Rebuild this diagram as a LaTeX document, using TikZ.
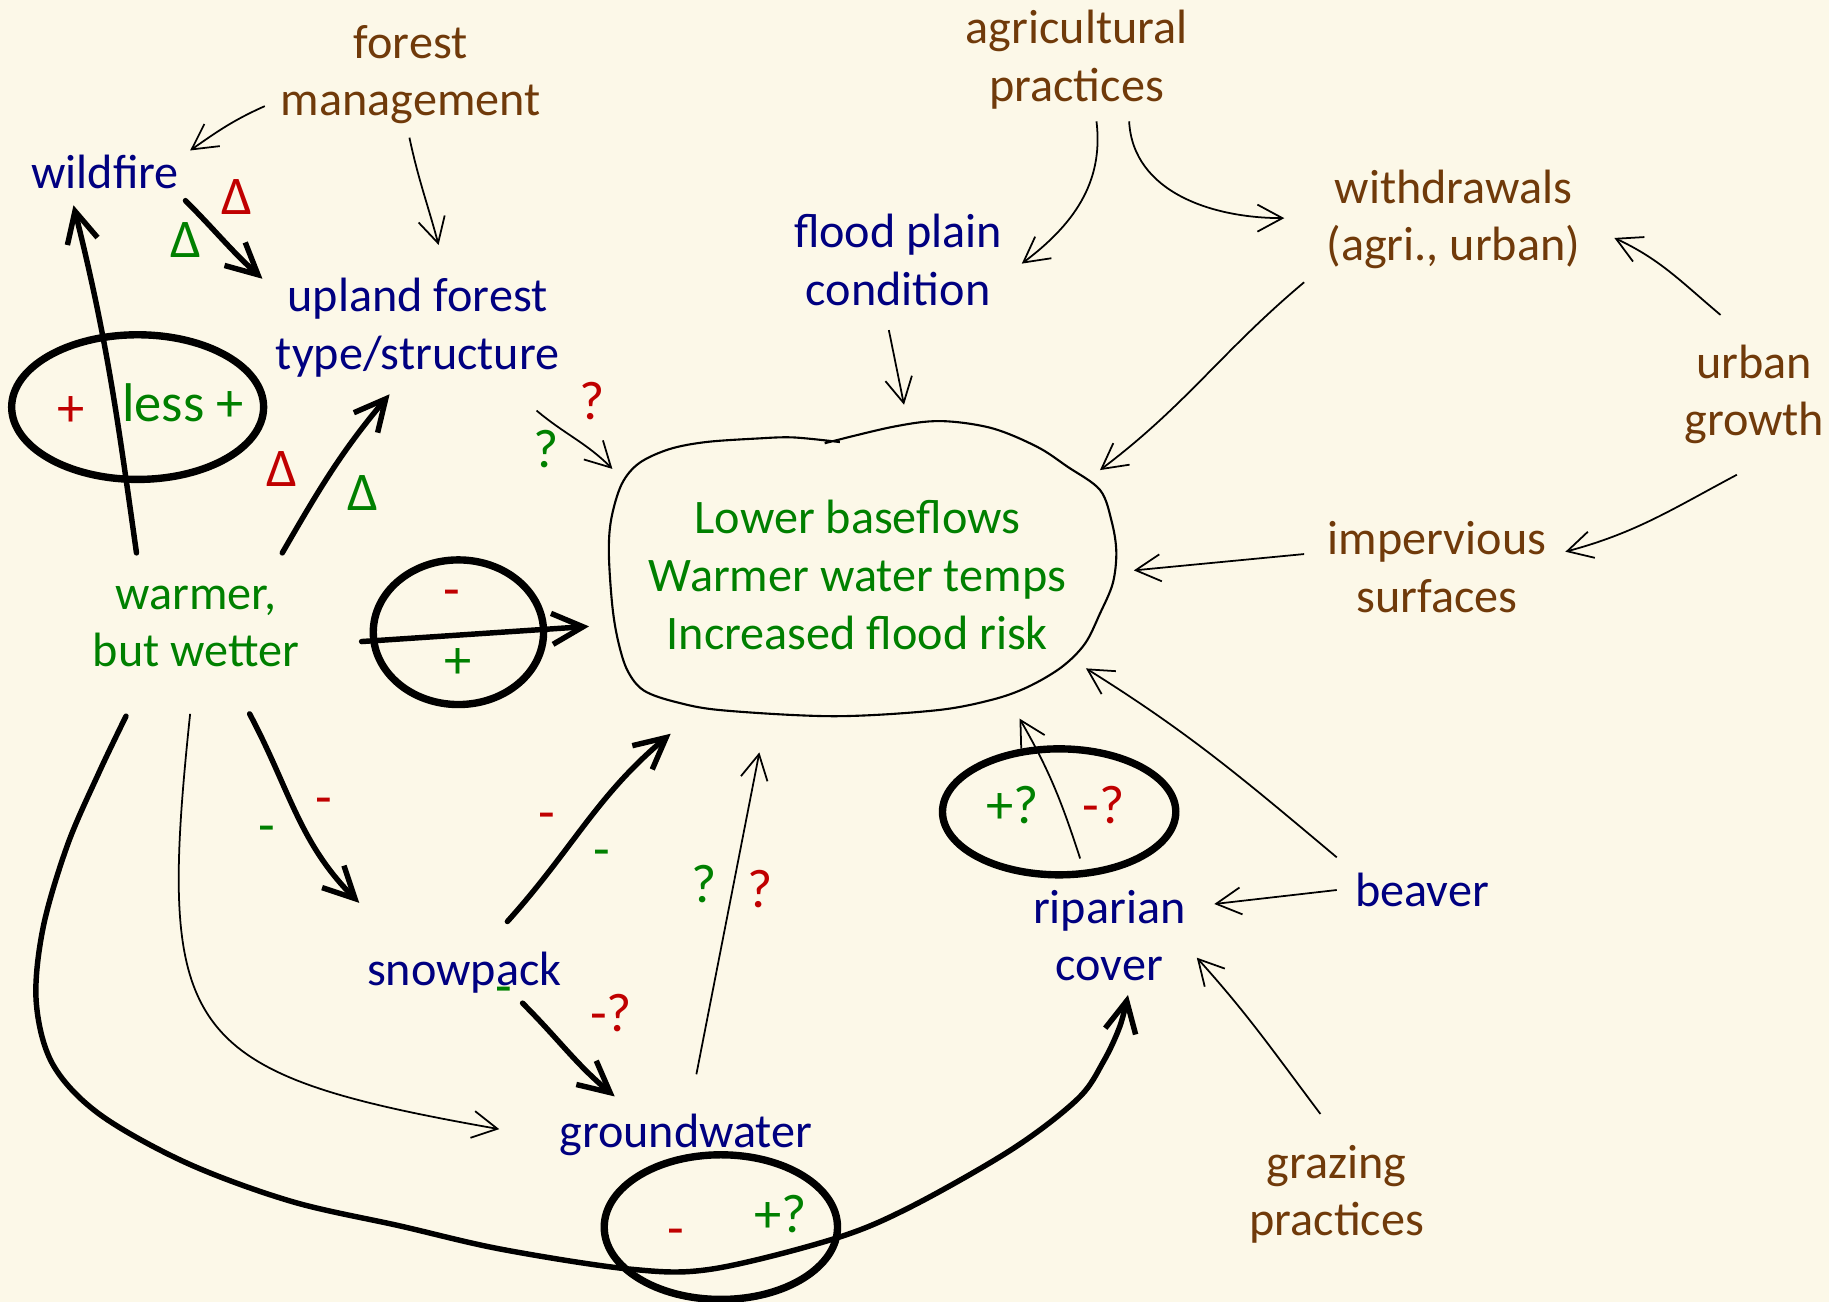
\documentclass[tikz,border=0pt]{standalone}
\usepackage{fontspec}
\setmainfont{Carlito}
\usetikzlibrary{arrows.meta}
\definecolor{bgc}{RGB}{252,248,232}
\definecolor{navy}{RGB}{0,0,128}
\definecolor{brn}{RGB}{112,58,10}
\definecolor{grn}{RGB}{0,128,0}
\definecolor{dred}{RGB}{192,0,0}
\begin{document}
\begin{tikzpicture}[x=0.011665cm,y=-0.011665cm,
 every node/.style={font=\fontsize{13.7}{16.4}\selectfont, inner sep=0pt},
 drv/.style={align=center, text=brn},
 var/.style={align=center, text=navy},
 res/.style={align=center, text=grn},
 lab/.style={font=\fontsize{15.5}{18}\selectfont, text height=9.9pt, text depth=0pt},
 lg/.style={lab, text=grn},
 lr/.style={lab, text=dred},
 tarr/.style={line width=0.5pt, -{Straight Barb[length=2.5mm,width=2.7mm]}},
 karr/.style={line width=1.55pt, line cap=round, line join=round, -{Straight Barb[length=3.1mm,width=3.1mm]}},
 ring/.style={line width=2.1pt}]
\useasboundingbox (0,0) rectangle (1568,1116);
\fill[bgc] (0,0) rectangle (1568,1116);

% nodes
\node[drv] (fm) at (352,64) {forest\\management};
\node[var] (wild) at (90,147) {wildfire};
\node[var] (up) at (358,281) {upland forest\\type/structure};
\node[drv] (agr) at (923,51) {agricultural\\practices};
\node[var] (fp) at (770,223) {flood plain\\condition};
\node[drv] (wd) at (1246,188) {withdrawals\\(agri., urban)};
\node[drv] (ug) at (1504,338) {urban\\growth};
\node[drv] (imp) at (1232,486) {impervious\\surfaces};
\node[res] (out) at (735,493) {Lower baseflows\\Warmer water temps\\Increased flood risk};
\node[res] (warm) at (168,537) {warmer,\\but wetter};
\node[var] (snow) at (398,834) {snowpack};
\node[var] (gw) at (588,973) {groundwater};
\node[var] (rip) at (951,802) {riparian\\cover};
\node[var] (bea) at (1219,763) {beaver};
\node[drv] (graz) at (1146,1024) {grazing\\practices};

% outcome blob
\draw[line width=0.6pt] plot[smooth, tension=0.55] coordinates {
 (720,379) (680,375) (648,376) (605,379) (574,385) (548,397) (533,415)
 (524,445) (522,475) (525,520) (530,550) (538,575) (552,592) (580,602)
 (620,609) (715,614) (802,609) (850,600) (881,589) (910,572) (930,552)
 (943,526) (954,500) (957,473) (953,447) (943,420) (915,400) (889,383)
 (850,367) (806,361) (765,366) (707,380)};

% rings
\draw[ring] (118,349) ellipse [x radius=108, y radius=62];
\draw[ring] (393,542) ellipse [x radius=73, y radius=62];
\draw[ring] (908,696) ellipse [x radius=100, y radius=54];
\draw[ring] (618,1052) ellipse [x radius=100, y radius=62];

% thin connectors
\draw[tarr] ([shift={(-125,27)}]fm.center) to[out=204,in=35] ([shift={(73,-18)}]wild.center);
\draw[tarr] ([shift={(-1,54)}]fm.center) to[out=-78,in=105] ([shift={(18,-71)}]up.center);
\draw[tarr] ([shift={(102,71)}]up.center) to[out=-40,in=135] ([shift={(-210,-91)}]out.center);
\draw[tarr] ([shift={(17,53)}]agr.center) to[out=-83,in=37] ([shift={(106,3)}]fp.center);
\draw[tarr] ([shift={(45,53)}]agr.center) to[out=-87,in=180] ([shift={(-145,-1)}]wd.center);
\draw[tarr] ([shift={(-8,60)}]fp.center) -- ([shift={(40,-146)}]out.center);
\draw[tarr] ([shift={(-128,54)}]wd.center) to[out=-140,in=37] ([shift={(208,-90)}]out.center);
\draw[tarr] ([shift={(-29,-68)}]ug.center) to[out=140,in=-25] ([shift={(138,16)}]wd.center);
\draw[tarr] ([shift={(-15,69)}]ug.center) to[out=-152,in=15] ([shift={(110,-13)}]imp.center);
\draw[tarr] ([shift={(-114,-11)}]imp.center) -- ([shift={(237,-4)}]out.center);
\draw[tarr] ([shift={(-73,0)}]bea.center) -- ([shift={(90,-27)}]rip.center);
\draw[tarr] ([shift={(-73,-28)}]bea.center) to[out=140,in=-32] ([shift={(196,80)}]out.center);
\draw[tarr] ([shift={(-14,-69)}]graz.center) to[out=127,in=-48] ([shift={(75,19)}]rip.center);
\draw[tarr] ([shift={(-25,-66)}]rip.center) to[out=108,in=-60] ([shift={(139,123)}]out.center);
\draw[tarr] ([shift={(9,-52)}]gw.center) -- ([shift={(-84,152)}]out.center);
\draw[tarr] ([shift={(-5,75)}]warm.center) to[out=-96,in=170,looseness=1.6] ([shift={(-160,-5)}]gw.center);

% thick connectors
\draw[karr] ([shift={(-51,-63)}]warm.center) to[out=98,in=-76] ([shift={(-27,29)}]wild.center);
\draw[karr] ([shift={(69,25)}]wild.center) to[out=-45,in=138] ([shift={(-133,-42)}]up.center);
\draw[karr] ([shift={(74,-63)}]warm.center) to[out=60,in=-130] ([shift={(-24,57)}]up.center);
\draw[karr] ([shift={(142,13)}]warm.center) -- ([shift={(-230,44)}]out.center);
\draw[karr] ([shift={(46,75)}]warm.center) to[out=-62,in=135] ([shift={(-90,-60)}]snow.center);
\draw[karr] ([shift={(37,-44)}]snow.center) to[out=48,in=-140] ([shift={(-160,136)}]out.center);
\draw[karr] ([shift={(50,26)}]snow.center) to[out=-45,in=140] ([shift={(-61,-33)}]gw.center);
\draw[karr] plot[smooth, tension=0.55] coordinates {
 ([shift={(-60,77)}]warm.center) (85,662) (58,724) (37,795) (31,858) (45,912)
 (85,955) (160,997) (250,1030) (343,1051) (430,1071) (540,1088) (610,1088)
 (715,1062) (780,1035) (868,985) (924,942) (946,910) (960,880)
 ([shift={(16,51)}]rip.center)};

% labels
\node[lr] (l1) at (203,169) {Δ};
\node[lg] (l2) at (159,206) {Δ};
\node[lr] (l3) at (242,402) {Δ};
\node[lg] (l4) at (311,423) {Δ};
\node[lr] (l5) at (61,351) {+};
\node[lg] (l6) at (157,346) {less +};
\node[lr] (l7) at (508,345) {?};
\node[lg] (l8) at (468,386) {?};
\node[lr] (l9) at (387,506) {-};
\node[lg] (l10) at (393,567) {+};
\node[lr] (l11) at (278,684) {-};
\node[lg] (l12) at (229,708) {-};
\node[lr] (l13) at (469,697) {-};
\node[lg] (l14) at (516,729) {-};
\node[lg] (l15) at (432,846) {-};
\node[lr] (l16) at (524,869) {-?};
\node[lg] (l17) at (604,759) {?};
\node[lr] (l18) at (652,763) {?};
\node[lg] (l19) at (868,691) {+?};
\node[lr] (l20) at (946,691) {-?};
\node[lr] (l21) at (579,1054) {-};
\node[lg] (l22) at (669,1042) {+?};
\end{tikzpicture}
\end{document}
